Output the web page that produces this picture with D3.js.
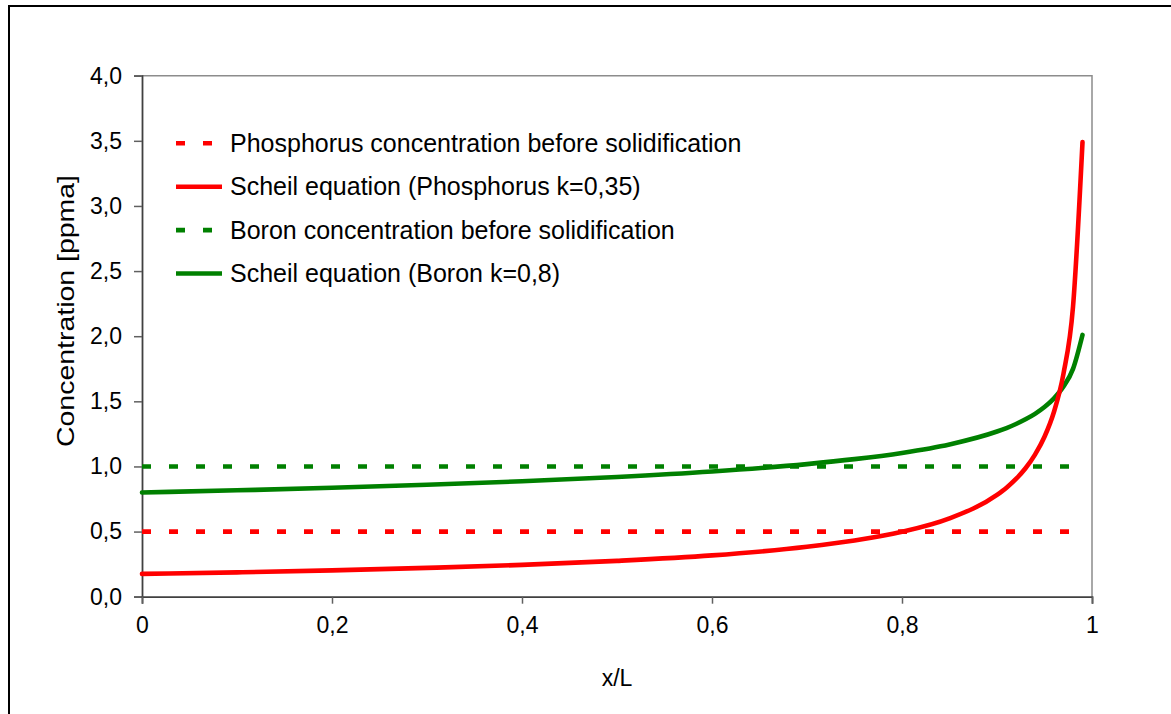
<!DOCTYPE html>
<html>
<head>
<meta charset="utf-8">
<script src="https://cdn.jsdelivr.net/npm/d3@7"></script>
<style>
  body { margin: 0; background: #fff; }
  svg { display: block; font-family: "Liberation Sans", Arial, sans-serif; }
</style>
</head>
<body>
<svg id="chart"></svg>
<script>
// x/L positions
let xPos = [0, 0.1, 0.2, 0.3, 0.4, 0.5, 0.6, 0.7, 0.75, 0.8, 0.85, 0.9, 0.91, 0.92, 0.93, 0.94, 0.95, 0.96, 0.97, 0.98, 0.99]
// Scheil curves
let phosphorus = [0.175, 0.187, 0.202, 0.221, 0.244, 0.275, 0.317, 0.383, 0.431, 0.498, 0.601, 0.782, 0.837, 0.904, 0.986, 1.091, 1.228, 1.420, 1.713, 2.225, 3.490]
let boron = [0.800, 0.817, 0.836, 0.859, 0.886, 0.919, 0.961, 1.018, 1.056, 1.104, 1.169, 1.268, 1.295, 1.326, 1.362, 1.404, 1.456, 1.523, 1.613, 1.749, 2.010]
// concentration before solidification
let flatX = [0, 0.99]
let phosphorusBefore = [0.5, 0.5]
let boronBefore = [1.0, 1.0]

let yTicks = [0, 0.5, 1, 1.5, 2, 2.5, 3, 3.5, 4]
let xTicks = [0, 0.2, 0.4, 0.6, 0.8, 1]

let legendNames = [
  "Phosphorus concentration before solidification",
  "Scheil equation (Phosphorus k=0,35)",
  "Boron concentration before solidification",
  "Scheil equation (Boron k=0,8)"
]

let width = 1171
let height = 714
let plotLeft = 142, plotRight = 1092, plotTop = 75.7, plotBottom = 596.7

let svg = d3.select("#chart")
  .attr("width", width)
  .attr("height", height)

// outer frame (cut off at right and bottom)
svg.append("rect")
   .attr("x", 9).attr("y", 6)
   .attr("width", 1300).attr("height", 900)
   .attr("fill", "none")
   .attr("stroke", "#000")
   .attr("stroke-width", 2)

let xScale = d3.scaleLinear().domain([0, 1]).range([plotLeft, plotRight])
let yScale = d3.scaleLinear().domain([0, 4]).range([plotBottom, plotTop])

let comma = (f) => (d) => f(d).replace(".", ",")

// plot border top/right
svg.append("path")
   .attr("d", "M" + plotLeft + "," + plotTop + "H" + plotRight + "V" + plotBottom)
   .attr("fill", "none")
   .attr("stroke", "#8c8c8c")
   .attr("stroke-width", 1.5)

let yAxis = d3.axisLeft(yScale)
              .tickValues(yTicks)
              .tickFormat(comma(d3.format(".1f")))
              .tickSize(8)
              .tickPadding(12)

let xAxis = d3.axisBottom(xScale)
              .tickValues(xTicks)
              .tickFormat(comma(d3.format("~g")))
              .tickSize(7)
              .tickPadding(13)

let gy = svg.append("g")
   .attr("transform", "translate(" + plotLeft + ",0)")
   .call(yAxis)

let gx = svg.append("g")
   .attr("transform", "translate(0," + plotBottom + ")")
   .call(xAxis)

for (let g of [gx, gy]) {
  g.select(".domain").attr("stroke", "#404040").attr("stroke-width", 1.8)
  g.selectAll(".tick line").attr("stroke", "#606060").attr("stroke-width", 1.5)
  g.selectAll(".tick text")
   .attr("fill", "#000")
   .style("font-size", "23px")
   .style("font-family", "Liberation Sans, Arial, sans-serif")
}

// axis titles
svg.append("text")
   .text("x/L")
   .attr("x", (plotLeft + plotRight) / 2)
   .attr("y", 686)
   .attr("text-anchor", "middle")
   .style("font-size", "23px")

svg.append("text")
   .text("Concentration [ppma]")
   .attr("transform", "translate(74,311) rotate(-90)")
   .attr("text-anchor", "middle")
   .attr("textLength", 272)
   .attr("lengthAdjust", "spacingAndGlyphs")
   .style("font-size", "24px")

let line = d3.line()
  .x((d) => xScale(d[0]))
  .y((d) => yScale(d[1]))

let curve = d3.line()
  .x((d) => xScale(d[0]))
  .y((d) => yScale(d[1]))
  .curve(d3.curveMonotoneX)

let series = [
  { name: legendNames[2], xs: flatX, ys: boronBefore, color: "#008000", dash: true },
  { name: legendNames[3], xs: xPos, ys: boron, color: "#008000", dash: false },
  { name: legendNames[0], xs: flatX, ys: phosphorusBefore, color: "#ff0000", dash: true },
  { name: legendNames[1], xs: xPos, ys: phosphorus, color: "#ff0000", dash: false }
]

series.forEach((s) => {
  let pts = s.xs.map((x, i) => [x, s.ys[i]])
  svg.append("path")
     .attr("d", s.dash ? line(pts) : curve(pts))
     .attr("fill", "none")
     .attr("stroke", s.color)
     .attr("stroke-width", 4.6)
     .attr("stroke-dasharray", s.dash ? "9,18" : null)
     .attr("stroke-linecap", s.dash ? "butt" : "round")
     .attr("stroke-linejoin", "round")
})

// legend
let legendOrder = [
  { color: "#ff0000", dash: true },
  { color: "#ff0000", dash: false },
  { color: "#008000", dash: true },
  { color: "#008000", dash: false }
]
let legend = svg.append("g")
legendOrder.forEach((d, i) => {
  let y = 143.3 + i * 43.4
  legend.append("line")
     .attr("x1", 176).attr("x2", 222)
     .attr("y1", y).attr("y2", y)
     .attr("stroke", d.color)
     .attr("stroke-width", 4.6)
     .attr("stroke-dasharray", d.dash ? "9,18" : null)
  legend.append("text")
     .text(legendNames[i])
     .attr("x", 230)
     .attr("y", y + 8.5)
     .style("font-size", "25px")
})
</script>
</body>
</html>
